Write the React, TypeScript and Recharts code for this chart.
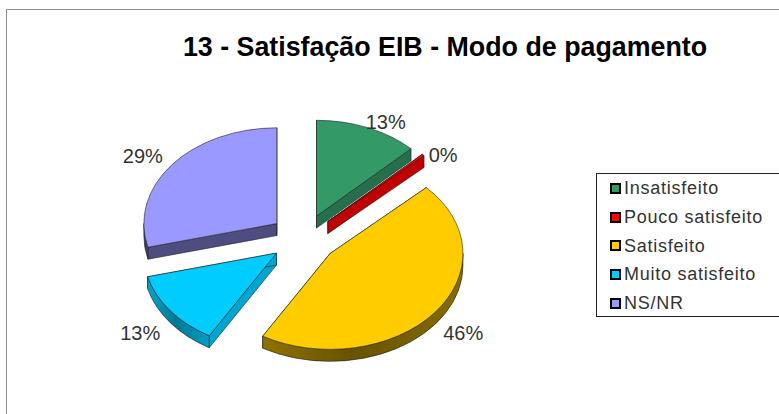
import React from "react";
import { PieChart, Pie, Legend } from "recharts";

const categories = ["Insatisfeito", "Pouco satisfeito", "Satisfeito", "Muito satisfeito", "NS/NR"];
const values = [12.6, 0.3, 45.6, 12.6, 29.0];
const topColors = ["#339966", "#ff0000", "#ffcc00", "#00ccff", "#9999ff"];
const sideColors = ["#266f4c", "#c00000", "#8f7200", "#00a6cf", "#4d4d80"];

const chartData = categories.map((name, i) => ({ name, value: values[i], fill: topColors[i], side: sideColors[i] }));

const SQUASH = 0.72;
const EXPLODE = 0.254;
const DEPTH = 12;
const RAD = Math.PI / 180;
const labelOffsets = [[18, -6], [20, 0], [29, 20], [-30, 22], [-29, -9]];
const FONT = "'Liberation Sans', Arial, sans-serif";

function centerOf(cx: number, cy: number, r: number, mid: number) {
  const t = (90 - mid) * RAD;
  return { x: cx + EXPLODE * r * Math.sin(t), y: cy - EXPLODE * r * SQUASH * Math.cos(t) };
}

function Slice3D(props: any) {
  const { cx, cy, outerRadius: r, startAngle, endAngle, fill, payload } = props;
  const side = props.side ?? payload?.side;
  const mid = (startAngle + endAngle) / 2;
  const c = centerOf(cx, cy, r, mid);
  const a0 = 90 - startAngle;
  const a1 = 90 - endAngle;
  const pt = (deg: number) => ({ x: c.x + r * Math.sin(deg * RAD), y: c.y - r * SQUASH * Math.cos(deg * RAD) });
  const p0 = pt(a0);
  const p1 = pt(a1);
  const ry = r * SQUASH;
  const large = a1 - a0 > 180 ? 1 : 0;
  const top = `M${c.x},${c.y}L${p0.x},${p0.y}A${r},${ry} 0 ${large} 1 ${p1.x},${p1.y}Z`;
  const quad = (p: { x: number; y: number }) =>
    `M${c.x},${c.y}L${p.x},${p.y}L${p.x},${p.y + DEPTH}L${c.x},${c.y + DEPTH}Z`;
  const rs = Math.max(a0, 90);
  const re = Math.min(a1, 270);
  let rim = "";
  if (re > rs) {
    const s = pt(rs);
    const e = pt(re);
    rim = `M${s.x},${s.y}A${r},${ry} 0 0 1 ${e.x},${e.y}L${e.x},${e.y + DEPTH}A${r},${ry} 0 0 0 ${s.x},${s.y + DEPTH}Z`;
  }
  const edge = { stroke: "#222", strokeWidth: 0.6, strokeLinejoin: "round" as const };
  return (
    <g>
      <path d={quad(p0)} fill={side} {...edge} />
      <path d={quad(p1)} fill={side} {...edge} />
      {rim && <path d={rim} fill={side} {...edge} />}
      {rim && <path d={rim} fill="url(#rimShade)" stroke="none" />}
      <path d={top} fill={fill} {...edge} />
    </g>
  );
}

function renderLabel(props: any) {
  const { cx, cy, outerRadius: r, midAngle, percent, index } = props;
  const c = centerOf(cx, cy, r, midAngle);
  const t = (90 - midAngle) * RAD;
  const x = c.x + r * Math.sin(t) + labelOffsets[index][0];
  const y = c.y - r * SQUASH * Math.cos(t) + labelOffsets[index][1];
  return (
    <text x={x} y={y} textAnchor="middle" dominantBaseline="central" fontFamily={FONT} fontSize={20} fill="#333">
      {`${Math.round(percent * 100)}%`}
    </text>
  );
}

function LegendBox() {
  return (
    <div style={{ width: 200, height: 144, border: "1.5px solid #222", boxSizing: "border-box", background: "#fff" }}>
      {categories.map((name, i) => (
        <div key={name} style={{ height: 28.7, display: "flex", alignItems: "center", paddingLeft: 13, fontFamily: FONT, fontSize: 18, color: "#333", letterSpacing: 0.75, whiteSpace: "nowrap", lineHeight: "18px" }}>
          <span style={{ display: "inline-block", width: 7, height: 7, border: "2px solid #000", background: topColors[i], marginRight: 3, flex: "none" }} />
          {name}
        </div>
      ))}
    </div>
  );
}

export default function App() {
  return (
    <div style={{ position: "absolute", left: 0, top: 0, width: 779, height: 414, overflow: "hidden", background: "#fff" }}>
      <div style={{ position: "absolute", left: 6, top: 9, width: 800, height: 500, border: "1px solid #8c8c8c" }} />
      <PieChart width={779} height={414} margin={{ top: 0, right: 0, bottom: 0, left: 0 }} style={{ position: "absolute", left: 0, top: 0 }}>
        <defs>
          <linearGradient id="rimShade" x1="0" y1="0" x2="1" y2="0">
            <stop offset="0" stopColor="#000" stopOpacity={0} />
            <stop offset="0.45" stopColor="#000" stopOpacity={0.28} />
            <stop offset="1" stopColor="#000" stopOpacity={0.05} />
          </linearGradient>
        </defs>
        <text x={445} y={47} textAnchor="middle" dominantBaseline="central" fontFamily={FONT} fontWeight="bold" fontSize={26.8} fill="#000">
          13 - Satisfação EIB - Modo de pagamento
        </text>
        <Pie
          data={chartData}
          dataKey="value"
          nameKey="name"
          cx={303.5}
          cy={238.5}
          innerRadius={0}
          outerRadius={133}
          startAngle={90}
          endAngle={-270}
          stroke="none"
          isAnimationActive={false}
          shape={Slice3D}
          label={renderLabel}
          labelLine={false}
        />
        <Legend content={() => <LegendBox />} wrapperStyle={{ position: "absolute", left: 596, top: 173, width: 200, height: 144, bottom: "auto", right: "auto" }} />
      </PieChart>
    </div>
  );
}
